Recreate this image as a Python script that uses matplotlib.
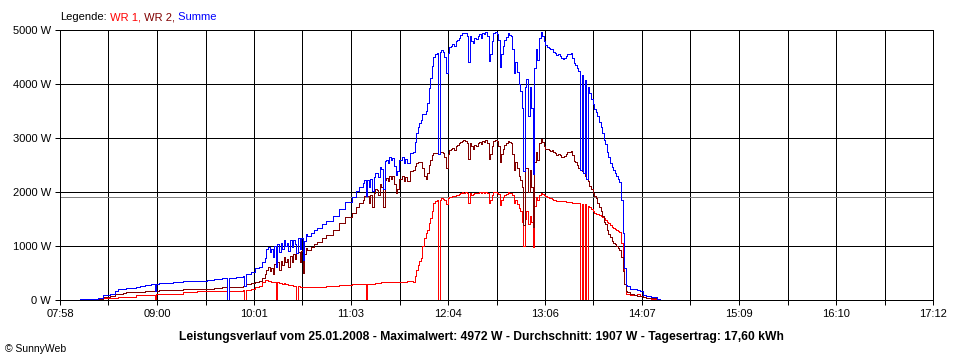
import numpy as np
import matplotlib
matplotlib.use('Agg')
import matplotlib.pyplot as plt

plt.rcParams['font.family'] = ['Liberation Sans', 'DejaVu Sans']

# readings of the day curve, one row per minute step (time, WR 1, WR 2, Summe)
times = ['08:11', '08:17', '08:22', '08:25', '08:30', '08:33', '08:35', '08:38', '08:40', '08:46',
         '08:49', '08:52', '08:56', '08:58', '08:59', '09:01', '09:05', '09:10', '09:16', '09:22',
         '09:25', '09:31', '09:36', '09:41', '09:44', '09:45', '09:50', '09:54', '09:55', '09:56',
         '09:59', '10:02', '10:04', '10:06', '10:08', '10:09', '10:10', '10:11', '10:12', '10:13',
         '10:14', '10:15', '10:16', '10:17', '10:18', '10:19', '10:20', '10:21', '10:22', '10:23',
         '10:24', '10:25', '10:26', '10:27', '10:28', '10:29', '10:30', '10:31', '10:32', '10:33',
         '10:34', '10:35', '10:37', '10:39', '10:41', '10:44', '10:47', '10:51', '10:55', '10:59',
         '11:03', '11:06', '11:08', '11:10', '11:11', '11:12', '11:13', '11:14', '11:15', '11:16',
         '11:17', '11:18', '11:19', '11:20', '11:21', '11:22', '11:23', '11:24', '11:25', '11:26',
         '11:27', '11:28', '11:29', '11:30', '11:31', '11:32', '11:33', '11:35', '11:36', '11:37',
         '11:38', '11:40', '11:42', '11:43', '11:44', '11:45', '11:46', '11:47', '11:48', '11:49',
         '11:50', '11:51', '11:52', '11:53', '11:54', '11:55', '11:56', '11:57', '11:58', '11:59',
         '12:00', '12:01', '12:02', '12:03', '12:04', '12:05', '12:06', '12:07', '12:08', '12:09',
         '12:10', '12:11', '12:12', '12:13', '12:14', '12:15', '12:16', '12:17', '12:18', '12:19',
         '12:20', '12:21', '12:22', '12:23', '12:24', '12:25', '12:26', '12:27', '12:28', '12:29',
         '12:30', '12:31', '12:32', '12:33', '12:34', '12:35', '12:36', '12:37', '12:38', '12:39',
         '12:40', '12:41', '12:42', '12:43', '12:44', '12:45', '12:46', '12:47', '12:48', '12:49',
         '12:50', '12:51', '12:52', '12:53', '12:54', '12:55', '12:56', '12:57', '12:58', '12:59',
         '13:00', '13:01', '13:02', '13:03', '13:04', '13:05', '13:06', '13:07', '13:08', '13:09',
         '13:10', '13:11', '13:12', '13:13', '13:14', '13:15', '13:16', '13:17', '13:18', '13:19',
         '13:20', '13:21', '13:22', '13:23', '13:24', '13:25', '13:26', '13:27', '13:28', '13:29',
         '13:30', '13:31', '13:32', '13:33', '13:34', '13:35', '13:36', '13:37', '13:38', '13:39',
         '13:40', '13:41', '13:42', '13:43', '13:44', '13:45', '13:46', '13:47', '13:48', '13:49',
         '13:50', '13:51', '13:52', '13:53', '13:54', '13:55', '13:56', '13:57', '13:58', '14:00',
         '14:02', '14:04', '14:06', '14:08', '14:10', '14:13', '14:17', '14:19']

wr1 = [0, 0, 10, 30, 30, 40, 50, 60, 60, 90,
       90, 90, 100, 0, 110, 105, 110, 120, 140, 155,
       160, 160, 165, 165, 0, 165, 175, 185, 0, 190,
       200, 240, 260, 330, 370, 370, 360, 350, 340, 330,
       340, 0, 330, 320, 310, 300, 310, 300, 290, 280,
       280, 270, 260, 260, 0, 260, 250, 250, 250, 250,
       250, 250, 250, 250, 250, 250, 255, 260, 270, 280,
       290, 290, 300, 300, 300, 0, 300, 300, 300, 300,
       300, 310, 310, 320, 320, 330, 330, 340, 340, 340,
       340, 340, 340, 340, 340, 340, 340, 340, 340, 340,
       345, 350, 340, 440, 555, 650, 720, 770, 1000, 1150,
       1250, 1300, 1420, 1510, 1650, 1790, 1830, 1850, 0, 1860,
       1880, 1870, 1850, 1770, 1880, 1900, 1910, 1920, 1930, 1940,
       1945, 1960, 1980, 2000, 1990, 2000, 1990, 1790, 1980, 1950,
       1960, 1990, 1980, 1990, 2000, 1980, 2000, 1990, 2000, 1980,
       1800, 1850, 1950, 2000, 2000, 1990, 1960, 1760, 1850, 1900,
       1940, 1970, 2000, 1980, 1990, 1950, 1800, 1850, 1780, 1700,
       1640, 1450, 1000, 1500, 1650, 1400, 1550, 1450, 990, 1750,
       1900, 1850, 1950, 1990, 1970, 1950, 1930, 1900, 1880, 1880,
       1870, 1860, 1850, 1840, 1840, 1830, 1830, 1830, 1830, 1820,
       1820, 1810, 1810, 1800, 1800, 1800, 1790, 1790, 0, 1780,
       0, 1770, 0, 1740, 1720, 1680, 1650, 1620, 1600, 1600,
       1580, 1560, 1530, 1510, 1480, 1450, 1420, 1380, 1360, 1340,
       1320, 1300, 1280, 1260, 1050, 700, 300, 120, 115, 100,
       100, 110, 70, 50, 40, 20, 10, 0]

wr2 = [0, 10, 20, 60, 80, 110, 120, 130, 140, 150,
       150, 160, 165, 165, 165, 180, 180, 185, 195, 200,
       200, 210, 220, 235, 0, 240, 250, 265, 265, 290,
       310, 340, 360, 400, 480, 560, 620, 540, 600, 480,
       660, 620, 700, 560, 730, 650, 800, 700, 760, 620,
       820, 700, 850, 760, 870, 880, 700, 900, 500, 850,
       960, 920, 990, 1030, 1080, 1140, 1200, 1300, 1420, 1540,
       1620, 1720, 1790, 1860, 1920, 1930, 1920, 1800, 1950, 1720,
       1980, 2050, 2040, 1950, 2150, 2100, 1730, 2230, 2260, 2200,
       2300, 2250, 2290, 2150, 1980, 2050, 2250, 2300, 2200, 2280,
       2200, 2380, 2410, 2480, 2530, 2560, 2560, 2560, 2450, 2300,
       2250, 2350, 2500, 2600, 2680, 2715, 2720, 2720, 2700, 2740,
       2750, 2720, 2650, 2440, 2700, 2780, 2800, 2820, 2780, 2850,
       2870, 2900, 2920, 2940, 2960, 2950, 2900, 2620, 2900, 2850,
       2800, 2870, 2850, 2900, 2920, 2880, 2950, 2930, 2960, 2900,
       2620, 2700, 2850, 2950, 2960, 2940, 2850, 2560, 2700, 2800,
       2870, 2900, 2940, 2930, 2900, 2700, 2400, 2550, 2450, 2300,
       2230, 2100, 1390, 2450, 2450, 2000, 2400, 2100, 1350, 2550,
       2750, 2600, 2900, 2980, 2920, 2850, 2800, 2790, 2780, 2760,
       2770, 2740, 2720, 2690, 2710, 2680, 2650, 2640, 2660, 2700,
       2740, 2750, 2760, 2680, 2580, 2560, 2500, 2450, 2400, 2380,
       2360, 2300, 2250, 2200, 2120, 2050, 1980, 1920, 1880, 1800,
       1720, 1650, 1560, 1450, 1400, 1300, 1230, 1160, 1100, 1060,
       1030, 1000, 960, 930, 800, 540, 300, 160, 150, 110,
       100, 80, 70, 50, 40, 30, 10, 0]

summe = [10, 20, 30, 90, 110, 170, 200, 210, 230, 250,
         260, 280, 300, 170, 300, 310, 320, 340, 345, 355,
         360, 370, 385, 400, 0, 405, 420, 450, 265, 480,
         510, 590, 620, 700, 780, 950, 990, 880, 950, 800,
         1000, 620, 1040, 880, 1050, 950, 1120, 1000, 1060, 900,
         1110, 980, 1120, 1030, 870, 1150, 950, 1150, 750, 1100,
         1220, 1180, 1250, 1290, 1330, 1400, 1460, 1560, 1690, 1820,
         1910, 2010, 2090, 2160, 2220, 1930, 2220, 2100, 2250, 2020,
         2280, 2360, 2350, 2270, 2470, 2430, 2060, 2570, 2600, 2540,
         2640, 2590, 2630, 2490, 2320, 2390, 2590, 2640, 2540, 2620,
         2545, 2730, 2750, 2920, 3090, 3210, 3280, 3330, 3450, 3450,
         3500, 3650, 3920, 4110, 4330, 4500, 4550, 4570, 2700, 4600,
         4630, 4590, 4500, 4210, 4580, 4680, 4710, 4740, 4710, 4790,
         4815, 4860, 4900, 4940, 4950, 4950, 4890, 4410, 4880, 4800,
         4760, 4860, 4830, 4890, 4920, 4860, 4950, 4920, 4960, 4880,
         4420, 4550, 4800, 4950, 4960, 4930, 4810, 4320, 4550, 4700,
         4810, 4870, 4940, 4910, 4890, 4650, 4200, 4400, 4230, 4000,
         3870, 3550, 2390, 3950, 4100, 3400, 3950, 3550, 2340, 4300,
         4650, 4450, 4850, 4970, 4890, 4800, 4730, 4690, 4660, 4640,
         4640, 4600, 4570, 4530, 4550, 4510, 4480, 4470, 4490, 4520,
         4560, 4560, 4570, 4480, 4380, 4360, 4290, 4240, 2400, 4160,
         2360, 4070, 2250, 3940, 3840, 3730, 3630, 3540, 3480, 3400,
         3300, 3210, 3090, 2960, 2880, 2750, 2650, 2540, 2460, 2400,
         2350, 2300, 2240, 2190, 1850, 1240, 600, 280, 265, 210,
         200, 190, 160, 100, 75, 50, 25, 0]

tick_labels = ['07:58', '09:00', '10:01', '11:03', '12:04',
               '13:06', '14:07', '15:09', '16:10', '17:12']
y_ticks = [0, 1000, 2000, 3000, 4000, 5000]
average = 1907
title = ('Leistungsverlauf vom 25.01.2008 - Maximalwert: 4972 W - '
         'Durchschnitt: 1907 W - Tagesertrag: 17,60 kWh')


def to_min(s):
    h, m = s.split(':')
    return int(h) * 60 + int(m)


t = np.array([to_min(s) for s in times])
t_start, t_end = to_min(tick_labels[0]), to_min(tick_labels[-1])

fig = plt.figure(figsize=(9.6, 3.6), dpi=100)
ax = fig.add_axes([60 / 960, 60 / 360, 873 / 960, 270 / 360])

lw_px = 0.72
ax.plot(t, wr1, color='#ff0000', lw=0.5, drawstyle='steps-post',
        antialiased=False, zorder=3)
ax.plot(t, wr2, color='#800000', lw=0.6, drawstyle='steps-post',
        antialiased=False, zorder=4)
ax.plot(t, summe, color='#0000ff', lw=0.5, drawstyle='steps-post',
        antialiased=False, zorder=5)
ax.axhline(average, color='#808080', lw=lw_px, antialiased=False, zorder=2)

ticks = np.linspace(t_start, t_end, 19)
ax.set_xlim(t_start, t_end)
ax.set_ylim(0, 5000)
ax.set_xticks(ticks[::2])
ax.set_xticklabels(tick_labels)
ax.set_xticks(ticks[1::2], minor=True)
ax.set_yticks(y_ticks)
ax.set_yticklabels([f'{v} W' for v in y_ticks])

ax.set_axisbelow(True)
ax.grid(which='both', axis='x', color='black', lw=lw_px)
ax.grid(which='major', axis='y', color='black', lw=lw_px)
ax.tick_params(which='both', direction='out', length=3.6, width=lw_px,
               colors='black', labelsize=8, pad=3)
for sp in ax.spines.values():
    sp.set_color('black')
    sp.set_linewidth(lw_px)

# legend line at the top, coloured piece by piece
renderer = fig.canvas.get_renderer()
x = 60 / 960
for s, c in [('Legende:', 'black'), (' WR 1,', '#ff0000'),
             (' WR 2,', '#800000'), (' Summe', '#0000ff')]:
    txt = fig.text(x, 1 - 17 / 360, s, color=c, fontsize=8, va='center')
    bb = txt.get_window_extent(renderer)
    x = bb.x1 / fig.bbox.width

fig.text(481 / 960, 1 - 337 / 360, title, fontsize=8.7, fontweight='bold',
         ha='center', va='center')
fig.text(5 / 960, 1 - 349 / 360, '\u00a9 SunnyWeb', fontsize=7.5, va='center')

fig.savefig('out.png', dpi=100)
